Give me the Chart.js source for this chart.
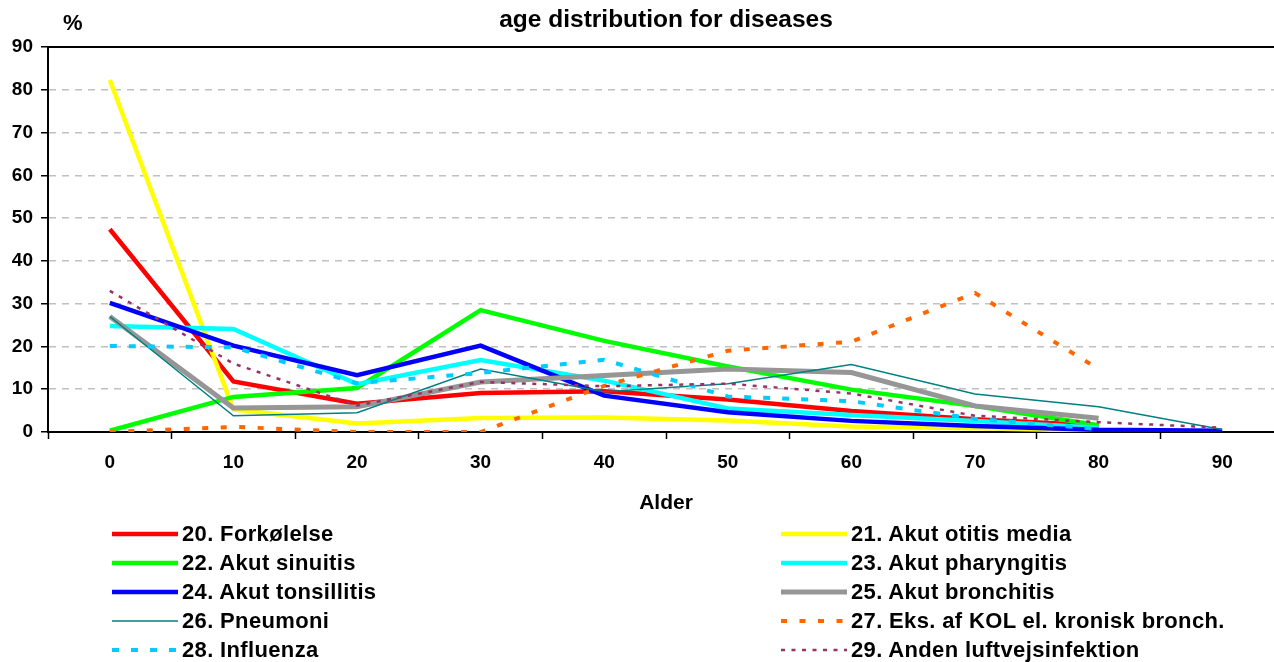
<!DOCTYPE html>
<html>
<head>
<meta charset="utf-8">
<script src="https://cdn.jsdelivr.net/npm/chart.js@4.4.1/dist/chart.umd.min.js"></script>
<style>
  html, body { margin: 0; padding: 0; background: #fff; overflow: hidden; }
  body { width: 1274px; height: 662px; position: relative; font-family: "Liberation Sans", Arial, sans-serif; font-weight: bold; color: #000; }
  #wrap { position: absolute; left: 0; top: 0; width: 1290px; height: 520px; }
  #pct { position: absolute; left: 63px; top: 10px; font-size: 22px; }
  .item { position: absolute; height: 29px; display: flex; align-items: center; font-size: 22px; letter-spacing: 0.35px; white-space: nowrap; }
  .item svg { margin-right: 4px; }
</style>
</head>
<body>
<div id="wrap"><canvas id="chart" width="1290" height="520"></canvas></div>
<div id="pct">%</div>
<div id="legend"></div>
<script>
const FONT = '"Liberation Sans", Arial, sans-serif';

const ages = ['0', '10', '20', '30', '40', '50', '60', '70', '80', '90'];
const yTicks = [0, 10, 20, 30, 40, 50, 60, 70, 80, 90];

const forkolelse   = [47.4, 11.8, 6.6, 9.1, 9.5, 7.6, 4.9, 3.0, 1.5, null];
const otitisMedia  = [82.3, 5.3, 2.0, 3.3, 3.4, 2.7, 1.3, 0.9, 0.3, null];
const sinuitis     = [0.3, 8.2, 10.3, 28.5, 21.3, 15.3, 9.9, 6.1, 1.6, null];
const pharyngitis  = [24.8, 24.1, 11.2, 16.8, 12.0, 5.5, 4.0, 2.6, 1.0, null];
const tonsillitis  = [30.2, 20.2, 13.3, 20.2, 8.5, 4.6, 2.6, 1.4, 0.5, 0.3];
const bronchitis   = [27.0, 5.6, 5.9, 11.7, 13.2, 14.7, 13.9, 6.1, 3.2, null];
const pneumoni     = [27.0, 3.8, 4.5, 14.7, 9.4, 11.3, 15.8, 8.9, 5.9, 0.6];
const kol          = [0, 1.2, 0, 0, 10.8, 19.0, 21.1, 32.5, 14.7, null];
const influenza    = [20.1, 19.8, 11.4, 13.8, 16.9, 8.3, 7.2, 3.1, 0.7, null];
const andenInfekt  = [33.0, 16.0, 6.2, 11.7, 10.7, 11.3, 9.0, 3.8, 2.3, 1.0];

const series = [
  { label: '20. Forkølelse', data: forkolelse, color: '#ff0000', width: 4.5, dash: [] },
  { label: '21. Akut otitis media', data: otitisMedia, color: '#ffff00', width: 4.5, dash: [] },
  { label: '22. Akut sinuitis', data: sinuitis, color: '#00ff00', width: 4.5, dash: [] },
  { label: '23. Akut pharyngitis', data: pharyngitis, color: '#00ffff', width: 4.5, dash: [] },
  { label: '24. Akut tonsillitis', data: tonsillitis, color: '#0000ff', width: 4.5, dash: [] },
  { label: '25. Akut bronchitis', data: bronchitis, color: '#969696', width: 5, dash: [] },
  { label: '26. Pneumoni', data: pneumoni, color: '#008080', width: 1.5, dash: [] },
  { label: '27. Eks. af KOL el. kronisk bronch.', data: kol, color: '#ff6600', width: 4, dash: [6, 12.5] },
  { label: '28. Influenza', data: influenza, color: '#00ccff', width: 4, dash: [7, 12] },
  { label: '29. Anden luftvejsinfektion', data: andenInfekt, color: '#993366', width: 2.5, dash: [4, 6.5] },
];

// Excel paints later series on top; Chart.js draws lower `order` last.
const datasets = series.map((s, i) => ({
  label: s.label,
  data: s.data,
  borderColor: s.color,
  backgroundColor: s.color,
  borderWidth: s.width,
  borderDash: s.dash,
  pointRadius: 0,
  tension: 0,
  fill: false,
  order: series.length - i,
}));

const topBorder = {
  id: 'topBorder',
  afterDraw(chart) {
    const { ctx, chartArea: a } = chart;
    ctx.save();
    ctx.strokeStyle = '#000';
    ctx.lineWidth = 2;
    ctx.beginPath();
    ctx.moveTo(a.left, a.top);
    ctx.lineTo(a.right, a.top);
    ctx.stroke();
    ctx.restore();
  }
};

const chart = new Chart(document.getElementById('chart'), {
  type: 'line',
  data: { labels: ages, datasets },
  options: {
    responsive: false,
    animation: false,
    devicePixelRatio: 1,
    layout: { padding: { left: 0, right: 6, top: 0, bottom: 0 } },
    plugins: {
      legend: { display: false },
      tooltip: { enabled: false },
      title: {
        display: true,
        fullSize: false,
        text: 'age distribution for diseases',
        color: '#000',
        font: { family: FONT, size: 24.5, weight: 'bold' },
        padding: { top: 6, bottom: 11.6 },
      },
    },
    scales: {
      x: {
        type: 'category',
        offset: true,
        grid: { offset: true, drawOnChartArea: false, tickLength: 7, tickColor: '#000', tickWidth: 1.5 },
        border: { color: '#000', width: 2 },
        ticks: { color: '#000', font: { family: FONT, size: 19, weight: 'bold' }, padding: 12, maxRotation: 0 },
        title: { display: true, text: 'Alder', color: '#000', font: { family: FONT, size: 21, weight: 'bold' }, padding: { top: 4, bottom: 4 } },
        afterFit(scale) { scale.height = 88; },
      },
      y: {
        min: 0,
        max: 90,
        afterBuildTicks(scale) { scale.ticks = yTicks.map(v => ({ value: v })); },
        grid: { color: '#c0c0c0', lineWidth: 1.5, tickLength: 7, tickColor: '#000', tickWidth: 1.5 },
        border: { color: '#000', width: 2, dash: [7, 6] },
        ticks: { color: '#000', font: { family: FONT, size: 19, weight: 'bold' }, padding: 8 },
        afterFit(scale) { scale.width = 48; },
      },
    },
  },
  plugins: [topBorder],
});

// two-column legend, left column even series, right column odd series
const legend = document.getElementById('legend');
chart.data.datasets.forEach((ds, i) => {
  const col = i % 2, row = Math.floor(i / 2);
  const item = document.createElement('div');
  item.className = 'item';
  item.style.left = (col ? 781 : 112) + 'px';
  item.style.top = (519 + row * 29) + 'px';
  const svg = `<svg width="66" height="12"><line x1="0" y1="6" x2="66" y2="6" stroke="${ds.borderColor}" stroke-width="${ds.borderWidth}" stroke-dasharray="${ds.borderDash.join(' ')}"/></svg>`;
  item.innerHTML = svg + '<span></span>';
  item.querySelector('span').textContent = ds.label;
  legend.appendChild(item);
});
</script>
</body>
</html>
